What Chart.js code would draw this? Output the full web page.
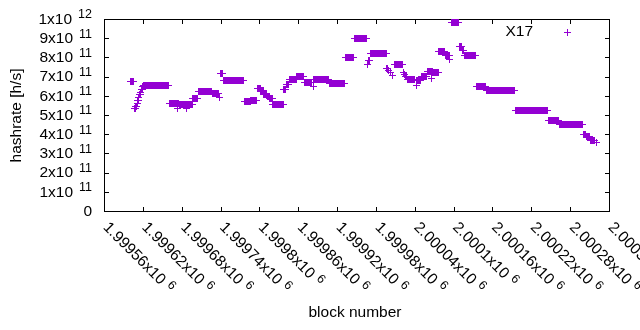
<!DOCTYPE html>
<html>
<head>
<meta charset="utf-8">
<script src="https://cdn.jsdelivr.net/npm/chart.js@4/dist/chart.umd.min.js"></script>
<style>
  html, body { margin: 0; padding: 0; background: #fff; }
  canvas { display: block; }
</style>
</head>
<body>
<canvas id="chart" width="640" height="330"></canvas>
<script>
const seriesName = 'X17';
const xTitle = 'block number';
const yTitle = 'hashrate [h/s]';

// runs of consecutive blocks that carry the same hashrate estimate
const runStart = [
  1999601, 1999607, 1999609, 1999611, 1999612, 1999614, 1999615, 1999617, 1999618, 1999620,
  1999621, 1999661, 1999674, 1999676, 1999687, 1999697, 1999706, 1999727, 1999738, 1999740,
  1999745, 1999777, 1999787, 1999797, 1999802, 1999807, 1999812, 1999816, 1999821, 1999838,
  1999842, 1999846, 1999858, 1999869, 1999883, 1999884, 1999908, 1999933, 1999947, 1999967,
  1999969, 1999972, 1999997, 2000000, 2000002, 2000005, 2000008, 2000022, 2000024, 2000026,
  2000028, 2000042, 2000043, 2000050, 2000059, 2000066, 2000068, 2000077, 2000087, 2000093,
  2000096, 2000109, 2000113, 2000117, 2000135, 2000151, 2000195, 2000246, 2000263, 2000300,
  2000305, 2000311, 2000321
];
const runEnd = [
  1999605, 1999608, 1999610, 1999611, 1999613, 1999614, 1999616, 1999617, 1999619, 1999620,
  1999660, 1999675, 1999674, 1999696, 1999687, 1999705, 1999726, 1999737, 1999738, 1999743,
  1999776, 1999786, 1999796, 1999801, 1999806, 1999811, 1999815, 1999820, 1999837, 1999841,
  1999845, 1999857, 1999868, 1999881, 1999883, 1999907, 1999932, 1999946, 1999966, 1999967,
  1999970, 1999996, 1999998, 2000000, 2000003, 2000005, 2000021, 2000022, 2000024, 2000027,
  2000040, 2000042, 2000049, 2000058, 2000067, 2000066, 2000076, 2000086, 2000094, 2000093,
  2000108, 2000112, 2000116, 2000134, 2000150, 2000194, 2000245, 2000262, 2000299, 2000304,
  2000310, 2000318, 2000321
];
const runValue = [
  6.77e11, 5.32e11, 5.45e11, 5.58e11, 5.74e11, 5.89e11, 6.05e11, 6.17e11, 6.35e11, 6.47e11,
  6.54e11, 5.61e11, 5.36e11, 5.54e11, 5.36e11, 5.88e11, 6.20e11, 6.11e11, 5.89e11, 7.18e11,
  6.81e11, 5.70e11, 5.76e11, 6.40e11, 6.26e11, 6.08e11, 5.95e11, 5.84e11, 5.57e11, 6.31e11,
  6.60e11, 6.86e11, 7.00e11, 6.70e11, 6.47e11, 6.86e11, 6.65e11, 8.01e11, 9.01e11, 7.65e11,
  7.84e11, 8.22e11, 7.41e11, 7.30e11, 7.20e11, 7.07e11, 7.63e11, 7.20e11, 7.09e11, 6.99e11,
  6.86e11, 6.52e11, 6.78e11, 6.99e11, 7.29e11, 6.92e11, 7.22e11, 8.29e11, 8.10e11, 7.90e11,
  9.83e11, 8.55e11, 8.38e11, 8.11e11, 6.49e11, 6.30e11, 5.24e11, 4.72e11, 4.52e11, 4.00e11,
  3.86e11, 3.65e11, 3.57e11
];

const xMin = 1999560;
const xMax = 2000340;
const xTickValues = [1999560, 1999620, 1999680, 1999740, 1999800, 1999860, 1999920,
  1999980, 2000040, 2000100, 2000160, 2000220, 2000280, 2000340];
const xTickMantissa = ['1.99956', '1.99962', '1.99968', '1.99974', '1.9998', '1.99986', '1.99992',
  '1.99998', '2.00004', '2.0001', '2.00016', '2.00022', '2.00028', '2.00034'];
const xTickExponent = '6';

const yTickValues = [0, 1e11, 2e11, 3e11, 4e11, 5e11, 6e11, 7e11, 8e11, 9e11, 1e12];
const yTickMantissa = ['0', '1x10', '2x10', '3x10', '4x10', '5x10', '6x10', '7x10', '8x10', '9x10', '1x10'];
const yTickExponent = ['', '11', '11', '11', '11', '11', '11', '11', '11', '11', '12'];

const purple = '#9400d3';
const fontFamily = '"Liberation Sans", Arial, sans-serif';
const mainFont = '15.5px ' + fontFamily;
const supFont = '12.5px ' + fontFamily;

const points = [];
runStart.forEach((start, i) => {
  for (let b = start; b <= runEnd[i]; b++) {
    points.push({ x: b, y: runValue[i] });
  }
});

// crisp 7x7 "+" like gnuplot's point type 1
const plus = document.createElement('canvas');
plus.width = 7;
plus.height = 7;
const pctx = plus.getContext('2d');
pctx.fillStyle = purple;
pctx.fillRect(0, 3, 7, 1);
pctx.fillRect(3, 0, 1, 7);

// gnuplot look: framed box, inward ticks on all sides, x10^n labels
const gnuplotFrame = {
  id: 'gnuplotFrame',
  beforeDatasetsDraw(chart) {
    const { ctx, chartArea: a, scales: { x, y } } = chart;
    ctx.save();
    ctx.strokeStyle = '#000';
    ctx.lineWidth = 1;
    ctx.strokeRect(a.left + 0.5, a.top + 0.5, a.right - a.left, a.bottom - a.top);
    ctx.beginPath();
    yTickValues.forEach(v => {
      const py = Math.round(y.getPixelForValue(v)) + 0.5;
      ctx.moveTo(a.left, py); ctx.lineTo(a.left + 5, py);
      ctx.moveTo(a.right + 1, py); ctx.lineTo(a.right - 4, py);
    });
    xTickValues.forEach(v => {
      const px = Math.round(x.getPixelForValue(v)) + 0.5;
      ctx.moveTo(px, a.bottom + 1); ctx.lineTo(px, a.bottom - 4);
      ctx.moveTo(px, a.top); ctx.lineTo(px, a.top + 5);
    });
    ctx.stroke();
    ctx.restore();
    ctx.imageSmoothingEnabled = false;
  },
  afterDatasetsDraw(chart) {
    chart.ctx.imageSmoothingEnabled = true;
  },
  afterDraw(chart) {
    const { ctx, chartArea: a, scales: { x, y } } = chart;
    ctx.save();
    ctx.fillStyle = '#000';

    // y tick labels
    ctx.textBaseline = 'middle';
    ctx.textAlign = 'right';
    yTickValues.forEach((v, i) => {
      const py = y.getPixelForValue(v);
      let right = 92;
      if (yTickExponent[i]) {
        ctx.font = supFont;
        ctx.fillText(yTickExponent[i], right, py - 4);
        right -= ctx.measureText(yTickExponent[i]).width + 6;
      }
      ctx.font = mainFont;
      ctx.fillText(yTickMantissa[i], right, py + 0.5);
    });

    // x tick labels, rotated 45 degrees downward
    ctx.textAlign = 'left';
    xTickValues.forEach((v, i) => {
      const px = x.getPixelForValue(v);
      ctx.save();
      ctx.translate(px + 1.5, a.bottom + 14);
      ctx.rotate(Math.PI / 4);
      ctx.font = mainFont;
      const main = xTickMantissa[i] + 'x10';
      ctx.fillText(main, 0, 0);
      const w = ctx.measureText(main).width;
      ctx.font = supFont;
      ctx.fillText(xTickExponent, w + 5, -4);
      ctx.restore();
    });

    // axis titles
    ctx.font = mainFont;
    ctx.textAlign = 'center';
    ctx.fillText(xTitle, 355, 313);
    ctx.save();
    ctx.translate(17, 115.5);
    ctx.rotate(-Math.PI / 2);
    ctx.fillText(yTitle, 0, 0);
    ctx.restore();

    // key in the top right corner
    ctx.textAlign = 'right';
    ctx.fillText(seriesName, 533, 31.5);
    ctx.drawImage(plus, 564, 29);
    ctx.restore();
  }
};

new Chart(document.getElementById('chart'), {
  type: 'scatter',
  data: {
    datasets: [{
      label: seriesName,
      data: points,
      pointStyle: plus,
      pointRadius: 3,
      pointHoverRadius: 3,
      borderColor: purple,
      backgroundColor: purple,
      borderWidth: 1
    }]
  },
  options: {
    responsive: false,
    animation: false,
    events: [],
    layout: { padding: { top: 19, right: 31, left: 0, bottom: 0 } },
    plugins: {
      legend: { display: false },
      tooltip: { enabled: false }
    },
    scales: {
      x: {
        type: 'linear',
        min: xMin,
        max: xMax,
        grid: { display: false },
        border: { display: false },
        ticks: { display: false },
        afterFit: s => { s.height = 119; }
      },
      y: {
        min: 0,
        max: 1e12,
        grid: { display: false },
        border: { display: false },
        ticks: { display: false },
        afterFit: s => { s.width = 104; }
      }
    }
  },
  plugins: [gnuplotFrame]
});
</script>
</body>
</html>
